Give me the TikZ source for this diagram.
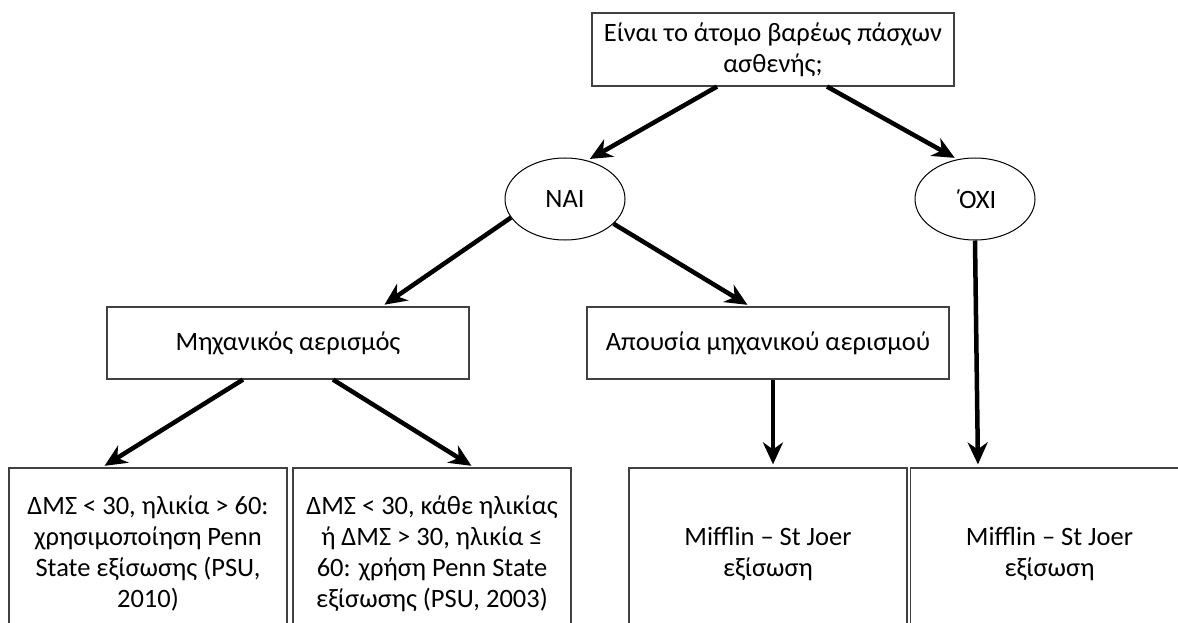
\documentclass[tikz,border=0pt]{standalone}
\usepackage{fontspec}
\setmainfont{Carlito}
\usetikzlibrary{arrows.meta,shapes.geometric}
\begin{document}
\begin{tikzpicture}[x=1pt,y=-1pt,
  txt/.style={font=\fontsize{26.5}{31}\selectfont,text=black},
  box/.style={txt,draw=black!75,line width=1.2pt,rectangle,inner sep=0pt,align=center},
  wide/.style={box,minimum width=362pt,minimum height=72pt},
  leaf/.style={box,minimum width=278pt,minimum height=172pt},
  oval/.style={txt,draw=black,line width=1pt,ellipse,inner sep=0pt,minimum width=120pt,minimum height=82pt},
  arr/.style={line width=4.5pt,shorten >=3pt,-{Stealth[length=22pt,width=20pt,inset=7pt]}}]
\useasboundingbox (0,0) rectangle (1178,623);
\clip (0,0) rectangle (1178,623);
\fill[white] (0,0) rectangle (1178,623);

% question and answers
\node[wide,minimum height=73pt] (q) at (773,49.5) {Είναι το άτομο βαρέως πάσχων\\ασθενής;};
\node[oval] (yes) at (565,199) {ΝΑΙ};
\node[oval] (no) at (975,199) {΄\kern-3pt ΟΧΙ};

% second level
\node[wide] (mech) at (288,343) {Μηχανικός αερισμός};
\node[wide] (nomech) at (768,343) {Απουσία μηχανικού αερισμού};

% leaves (running past the lower edge)
\node[leaf] (l1) at (148,554) {ΔΜΣ < 30, ηλικία > 60:\\χρησιμοποίηση Penn\\State εξίσωσης (PSU,\\2010)};
\node[leaf] (l2) at (432,554) {ΔΜΣ < 30, κάθε ηλικίας\\ή ΔΜΣ > 30, ηλικία ≤\\60: χρήση Penn State\\εξίσωσης (PSU, 2003)};
\node[leaf] (l3) at (768,554) {Mifflin – St Joer\\εξίσωση};
\node[leaf] (l4) at (1049.5,554) {Mifflin – St Joer\\εξίσωση};

% connectors
\draw[arr] ([xshift=-56pt]q.south) -- (yes.60);
\draw[arr] ([xshift=54pt]q.south) -- (no.114);
\draw[arr] (yes.199) -- ([xshift=94pt]mech.north);
\draw[arr] (yes.-27) -- ([xshift=-18pt]nomech.north);
\draw[arr] ([xshift=-45pt]mech.south) -- ([xshift=-46pt]l1.north);
\draw[arr] ([xshift=45pt]mech.south) -- ([xshift=42pt]l2.north);
\draw[arr] ([xshift=5pt]nomech.south) -- ([xshift=5pt]l3.north);
\draw[arr] (no.south) -- ([xshift=-71.5pt]l4.north);
\end{tikzpicture}
\end{document}
